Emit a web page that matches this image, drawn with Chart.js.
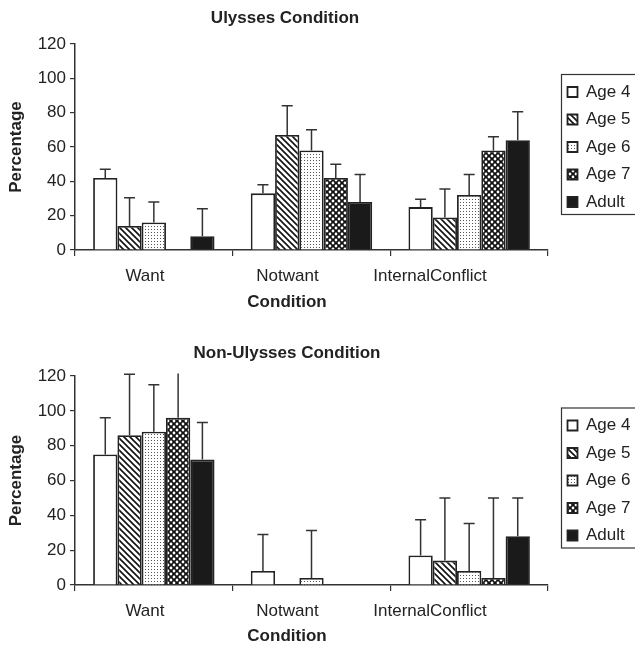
<!DOCTYPE html>
<html>
<head>
<meta charset="utf-8">
<script src="https://cdn.jsdelivr.net/npm/chart.js@4.4.1/dist/chart.umd.min.js"></script>
<style>
body { margin: 0; background: #fff; }
#wrap { position: relative; width: 635px; height: 647px; }
canvas { position: absolute; left: 0; }
</style>
</head>
<body>
<div id="wrap">
	<canvas id="c-ulysses" width="635" height="325" style="top:0"></canvas>
	<canvas id="c-nonulysses" width="635" height="322" style="top:325px"></canvas>
</div>
<script>
var conditions = ['Want', 'Notwant', 'InternalConflict'];
var ageGroups = ['Age 4', 'Age 5', 'Age 6', 'Age 7', 'Adult'];
var yTicks = [0, 20, 40, 60, 80, 100, 120];

// Ulysses condition: mean percentage per condition
var ulAge4 = [42, 33, 25];
var ulAge5 = [14, 67, 19];
var ulAge6 = [16, 58, 32];
var ulAge7 = [null, 42, 58];
var ulAdult = [8, 28, 64];
// error bar length (upper only)
var ulAge4Err = [5, 5, 4.5];
var ulAge5Err = [16.5, 17, 16.5];
var ulAge6Err = [12, 12, 12];
var ulAge7Err = [null, 8, 8];
var ulAdultErr = [16, 16, 16.5];

// Non-Ulysses condition
var nuAge4 = [75, 8, 17];
var nuAge5 = [86, null, 14];
var nuAge6 = [88, 4, 8];
var nuAge7 = [96, null, 4];
var nuAdult = [72, null, 28];
var nuAge4Err = [21, 21, 20.5];
var nuAge5Err = [35, null, 36];
var nuAge6Err = [27, 27.3, 27.3];
var nuAge7Err = [30, null, 46];
var nuAdultErr = [21.3, null, 22];

var FONT = '"Liberation Sans", Arial, Helvetica, sans-serif';
var INK = '#222';

function tile(size, draw) {
	var c = document.createElement('canvas');
	c.width = size; c.height = size;
	var g = c.getContext('2d');
	draw(g);
	return g.createPattern(c, 'repeat');
}

function fills() {
	var hatch = tile(6, function(g) {
		g.fillStyle = '#fff'; g.fillRect(0, 0, 6, 6);
		g.strokeStyle = '#111'; g.lineWidth = 1.6;
		g.beginPath();
		g.moveTo(-1, -1); g.lineTo(7, 7);
		g.moveTo(-1, 5); g.lineTo(1, 7);
		g.moveTo(5, -1); g.lineTo(7, 1);
		g.stroke();
	});
	var dots = tile(3, function(g) {
		g.fillStyle = '#fff'; g.fillRect(0, 0, 3, 3);
		g.fillStyle = '#555'; g.fillRect(1, 1, 1, 1);
	});
	var checker = tile(6, function(g) {
		g.fillStyle = '#111'; g.fillRect(0, 0, 6, 6);
		g.fillStyle = '#fff';
		[[0, 0], [6, 0], [0, 6], [6, 6], [3, 3]].forEach(function(p) {
			g.beginPath(); g.arc(p[0], p[1], 1.4, 0, Math.PI * 2); g.fill();
		});
	});
	return ['#fff', hatch, dots, checker, '#1a1a1a'];
}

var errorBars = {
	id: 'errorBars',
	afterDatasetsDraw: function(chart, args, opts) {
		var ctx = chart.ctx;
		var y = chart.scales.y;
		ctx.save();
		ctx.strokeStyle = '#333';
		ctx.lineWidth = 1.5;
		chart.data.datasets.forEach(function(ds, i) {
			var meta = chart.getDatasetMeta(i);
			meta.data.forEach(function(bar, j) {
				var v = ds.data[j], e = ds.errors[j];
				if (v == null || e == null) return;
				var top = v + e;
				var capped = top <= opts.clip;
				var yTop = y.getPixelForValue(Math.min(top, opts.clip));
				ctx.beginPath();
				ctx.moveTo(bar.x, bar.y);
				ctx.lineTo(bar.x, yTop);
				if (capped) {
					ctx.moveTo(bar.x - 5.5, yTop);
					ctx.lineTo(bar.x + 5.5, yTop);
				}
				ctx.stroke();
			});
		});
		ctx.restore();
	}
};

var captions = {
	id: 'captions',
	afterDraw: function(chart, args, opts) {
		var ctx = chart.ctx;
		ctx.save();
		ctx.fillStyle = INK;
		ctx.font = 'bold 17px ' + FONT;
		ctx.textAlign = 'center';
		ctx.textBaseline = 'middle';
		ctx.fillText(opts.title, opts.titleX, opts.titleY);
		ctx.fillText('Condition', opts.axisX, opts.axisY);
		// frame round the legend
		var hb = chart.legend.legendHitBoxes;
		var top = hb[0].top, bottom = hb[hb.length - 1].top + hb[hb.length - 1].height;
		var left = hb[0].left;
		ctx.strokeStyle = '#333';
		ctx.lineWidth = 1.2;
		ctx.strokeRect(left - 6, top - 9, 700, bottom - top + 13);
		ctx.restore();
	}
};

function makeChart(id, series, errs, pad, cap) {
	var pats = fills();
	var datasets = ageGroups.map(function(name, k) {
		return {
			label: name,
			data: series[k],
			errors: errs[k],
			backgroundColor: pats[k],
			borderColor: INK,
			borderWidth: 1.8,
			borderSkipped: 'bottom',
			categoryPercentage: 0.77,
			barPercentage: 1.0
		};
	});
	return new Chart(document.getElementById(id), {
		type: 'bar',
		data: { labels: conditions, datasets: datasets },
		options: {
			responsive: false,
			animation: false,
			devicePixelRatio: 1,
			layout: { padding: { top: pad.top, bottom: pad.bottom, left: 0, right: 0 } },
			plugins: {
				title: { display: false },
				tooltip: { enabled: false },
				legend: {
					position: 'right',
					fullSize: false,
					maxWidth: 78,
					labels: {
						boxWidth: 10, boxHeight: 10, padding: 10.5,
						color: INK, font: { size: 17, family: FONT }
					}
				},
				errorBars: { clip: 121.5 },
				captions: cap
			},
			scales: {
				x: {
					type: 'category',
					offset: true,
					grid: { offset: true, drawOnChartArea: false, drawTicks: true, tickLength: 6, color: '#333', lineWidth: 1.2 },
					border: { color: '#333', width: 1.5 },
					ticks: { display: false },
					afterFit: function(s) { s.height = 6; }
				},
				x2: {
					type: 'linear',
					position: 'bottom',
					offset: false,
					min: -0.491, max: 2.828,
					grid: { display: false, offset: false },
					border: { display: false },
					afterBuildTicks: function(s) { s.ticks = [0, 1, 2].map(function(v) { return { value: v }; }); },
					ticks: {
						padding: 2, maxRotation: 0, autoSkip: false, color: INK, font: { size: 17, family: FONT },
						callback: function(v) { return conditions[v]; }
					},
					afterFit: function(s) { s.height = 40; }
				},
				y: {
					min: 0, max: 120,
					afterBuildTicks: function(s) { s.ticks = yTicks.map(function(v) { return { value: v }; }); },
					grid: { drawOnChartArea: false, drawTicks: true, tickLength: 5, color: '#333', lineWidth: 1.2 },
					border: { color: '#333', width: 1.5 },
					ticks: { padding: 4, color: INK, font: { size: 17, family: FONT } },
					title: { display: true, text: 'Percentage', color: INK, padding: { top: 6, bottom: 4 }, font: { size: 17, weight: 'bold', family: FONT } },
					afterFit: function(s) { s.width = 75; }
				},
				// empty spacer between plot and legend
				gap: {
					type: 'linear',
					position: 'right',
					grid: { display: false },
					border: { display: false },
					ticks: { display: false },
					afterFit: function(s) { s.width = 9; }
				}
			}
		},
		plugins: [errorBars, captions]
	});
}

makeChart('c-ulysses',
	[ulAge4, ulAge5, ulAge6, ulAge7, ulAdult],
	[ulAge4Err, ulAge5Err, ulAge6Err, ulAge7Err, ulAdultErr],
	{ top: 44, bottom: 29 },
	{ title: 'Ulysses Condition', titleX: 285, titleY: 18, axisX: 287, axisY: 302 });

makeChart('c-nonulysses',
	[nuAge4, nuAge5, nuAge6, nuAge7, nuAdult],
	[nuAge4Err, nuAge5Err, nuAge6Err, nuAge7Err, nuAdultErr],
	{ top: 51, bottom: 16 },
	{ title: 'Non-Ulysses Condition', titleX: 287, titleY: 28, axisX: 287, axisY: 311 });
</script>
</body>
</html>
